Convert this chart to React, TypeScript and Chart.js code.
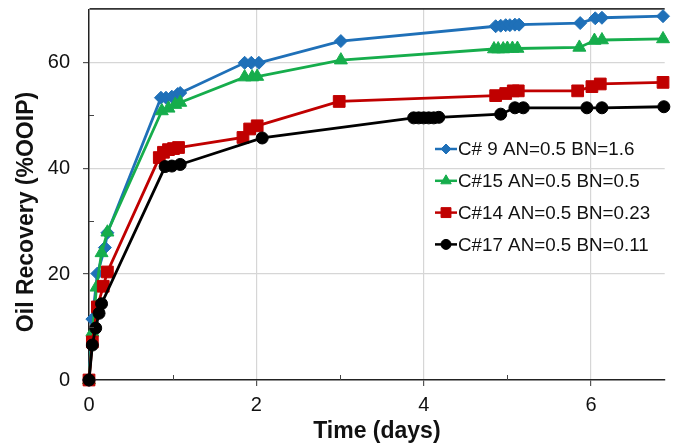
import React, { useEffect, useRef } from 'react';
import { Chart, registerables } from 'chart.js';
import { drawPoint } from 'chart.js/helpers';

Chart.register(...registerables);

const seriesLabels = [
  'C# 9 AN=0.5 BN=1.6',
  'C#15 AN=0.5 BN=0.5',
  'C#14 AN=0.5 BN=0.23',
  'C#17 AN=0.5 BN=0.11',
];

const c9Time = [0, 0.04, 0.1, 0.19, 0.22, 0.86, 0.92, 0.99, 1.06, 1.09, 1.86, 1.94, 2.03, 3.01, 4.86, 4.92, 4.98, 5.03, 5.09, 5.14, 5.87, 6.05, 6.13, 6.86];
const c9Rec = [0, 11.5, 20.1, 25, 27.8, 53.3, 53.3, 53.5, 54, 54.2, 59.9, 59.9, 59.9, 64, 66.8, 66.9, 67, 67, 67.1, 67.1, 67.4, 68.3, 68.4, 68.7];

const c15Time = [0, 0.04, 0.09, 0.15, 0.22, 0.87, 0.95, 1.03, 1.09, 1.86, 1.95, 2.01, 3.01, 4.84, 4.89, 4.95, 5.0, 5.06, 5.12, 5.86, 6.04, 6.13, 6.86];
const c15Rec = [0, 9, 17.5, 24, 27.9, 50.8, 51.3, 52, 52.4, 57.2, 57.2, 57.3, 60.4, 62.5, 62.5, 62.5, 62.6, 62.6, 62.6, 62.8, 64.1, 64.2, 64.4];

const c14Time = [0, 0.04, 0.1, 0.17, 0.22, 0.84, 0.89, 0.95, 1.01, 1.07, 1.84, 1.92, 2.01, 2.99, 4.86, 4.98, 5.07, 5.13, 5.84, 6.01, 6.11, 6.86];
const c14Rec = [0, 7.2, 13.8, 17.7, 20.4, 42, 43, 43.5, 43.7, 43.9, 45.8, 47.4, 48, 52.6, 53.7, 54.1, 54.6, 54.6, 54.6, 55.4, 55.9, 56.2];

const c17Time = [0, 0.04, 0.08, 0.12, 0.15, 0.91, 0.99, 1.09, 2.07, 3.88, 3.94, 4.0, 4.06, 4.12, 4.18, 4.92, 5.09, 5.19, 5.95, 6.13, 6.87];
const c17Rec = [0, 6.6, 9.8, 12.6, 14.4, 40.3, 40.4, 40.7, 45.7, 49.5, 49.5, 49.5, 49.5, 49.5, 49.6, 50.2, 51.4, 51.4, 51.4, 51.4, 51.6];

const xMajorTicks = [0, 2, 4, 6];
const xMinorTicks = [1, 3, 5];
const yMajorTicks = [0, 20, 40, 60];
const yMinorTicks = [10, 30, 50];
const xMax = 6.88;
const yMax = 70;
const xTitle = 'Time (days)';
const yTitle = 'Oil Recovery (%OOIP)';

const FONT = "'Liberation Sans', Arial, sans-serif";

const colors = ['#1f70b8', '#16ad4c', '#c00000', '#000000'];
const pointStyles = ['rectRot', 'triangle', 'rect', 'circle'];
const pointRadii = [6.5, 7.5, 8.3, 6];
const legendRadii = [5, 6, 7, 5];

const toXY = (t: number[], r: number[]) => t.map((x, i) => ({ x, y: r[i] }));

const minorTicksPlugin = {
  id: 'minorTicks',
  afterDraw(chart: any) {
    const { ctx, scales, chartArea } = chart;
    ctx.save();
    ctx.strokeStyle = '#444';
    ctx.lineWidth = 1;
    ctx.beginPath();
    xMinorTicks.forEach((v) => {
      const px = Math.round(scales.x.getPixelForValue(v)) + 0.5;
      ctx.moveTo(px, chartArea.bottom);
      ctx.lineTo(px, chartArea.bottom - 5);
    });
    yMinorTicks.forEach((v) => {
      const py = Math.round(scales.y.getPixelForValue(v)) + 0.5;
      ctx.moveTo(chartArea.left, py);
      ctx.lineTo(chartArea.left + 5, py);
    });
    ctx.stroke();
    // y-axis title
    ctx.translate(27, 212);
    ctx.rotate(-Math.PI / 2);
    ctx.font = `bold 23px ${FONT}`;
    ctx.fillStyle = '#111';
    ctx.textAlign = 'center';
    ctx.textBaseline = 'middle';
    ctx.fillText(yTitle, 0, 0);
    ctx.restore();
  },
};

const legendPlugin = {
  id: 'insideLegend',
  afterDraw(chart: any) {
    const { ctx } = chart;
    const x0 = 435;
    const y0 = 149;
    const rowH = 31.8;
    ctx.save();
    ctx.font = `18.8px ${FONT}`;
    ctx.textBaseline = 'middle';
    ctx.textAlign = 'left';
    seriesLabels.forEach((label, i) => {
      const y = y0 + i * rowH;
      ctx.strokeStyle = colors[i];
      ctx.lineWidth = 2.5;
      ctx.beginPath();
      ctx.moveTo(x0, y);
      ctx.lineTo(x0 + 22, y);
      ctx.stroke();
      ctx.fillStyle = colors[i];
      ctx.lineWidth = 1;
      drawPoint(ctx, { pointStyle: pointStyles[i] as any, radius: legendRadii[i], rotation: 0, borderWidth: 1 }, x0 + 11, y);
      ctx.fillStyle = '#111';
      ctx.fillText(label, x0 + 23, y + 1);
    });
    ctx.restore();
  },
};

export default function App() {
  const canvasRef = useRef<HTMLCanvasElement>(null);

  useEffect(() => {
    document.body.style.margin = '0';
    const canvas = canvasRef.current;
    if (!canvas) return;
    const series = [
      toXY(c9Time, c9Rec),
      toXY(c15Time, c15Rec),
      toXY(c14Time, c14Rec),
      toXY(c17Time, c17Rec),
    ];
    const chart = new Chart(canvas, {
      type: 'line',
      data: {
        datasets: series.map((d, i) => ({
          label: seriesLabels[i],
          data: d,
          order: series.length - 1 - i,
          borderColor: colors[i],
          backgroundColor: colors[i],
          borderWidth: 2.8,
          pointStyle: pointStyles[i] as any,
          pointRadius: pointRadii[i],
          pointBorderWidth: 1,
          pointBackgroundColor: colors[i],
          pointBorderColor: colors[i],
          tension: 0,
          fill: false,
          clip: false as any,
        })),
      },
      options: {
        responsive: false,
        animation: false,
        devicePixelRatio: 1,
        layout: { padding: { top: 7, right: 0, left: 0, bottom: 0 } },
        plugins: {
          legend: { display: false },
          tooltip: { enabled: false },
        },
        scales: {
          x: {
            type: 'linear',
            min: 0,
            max: xMax,
            afterBuildTicks: (scale: any) => {
              scale.ticks = xMajorTicks.map((value) => ({ value }));
            },
            afterFit: (scale: any) => {
              scale.height = 65;
              scale.paddingLeft = 0;
              scale.paddingRight = 0;
            },
            grid: {
              color: (c: any) => (c.tick && c.tick.value === 0 ? 'rgba(0,0,0,0)' : '#d6d6d6'),
              tickColor: '#555',
              tickLength: 6,
              lineWidth: 1.2,
            },
            border: { color: '#222', width: 1.5 },
            ticks: {
              color: '#111',
              padding: 7,
              font: { family: FONT, size: 20 },
              callback: (v: any) => String(v),
            },
            title: {
              display: true,
              text: xTitle,
              color: '#111',
              font: { family: FONT, size: 23, weight: 'bold' },
              padding: { top: 0, bottom: 0 },
            },
          },
          y: {
            type: 'linear',
            min: 0,
            max: yMax,
            afterBuildTicks: (scale: any) => {
              scale.ticks = [...yMajorTicks, yMax].map((value) => ({ value }));
            },
            afterFit: (scale: any) => {
              scale.width = 89;
              scale.paddingTop = 0;
              scale.paddingBottom = 0;
            },
            grid: {
              color: (c: any) =>
                c.tick && c.tick.value === yMax ? '#333' : c.tick && c.tick.value === 0 ? 'rgba(0,0,0,0)' : '#d6d6d6',
              lineWidth: (c: any) => (c.tick && c.tick.value === yMax ? 1.8 : 1.2),
              tickColor: (c: any) => (c.tick && c.tick.value === yMax ? 'rgba(0,0,0,0)' : '#555'),
              tickLength: 6,
            },
            border: { color: '#222', width: 1.5 },
            ticks: {
              color: '#111',
              padding: 13,
              font: { family: FONT, size: 20 },
              callback: (v: any) => (v === yMax ? '' : String(v)),
            },
            title: { display: false },
          },
        },
      },
      plugins: [minorTicksPlugin, legendPlugin],
    });
    return () => chart.destroy();
  }, []);

  return (
    <div style={{ position: 'absolute', left: 0, top: 0, width: 674, height: 445, background: '#fff' }}>
      <canvas ref={canvasRef} width={674} height={445} />
    </div>
  );
}
